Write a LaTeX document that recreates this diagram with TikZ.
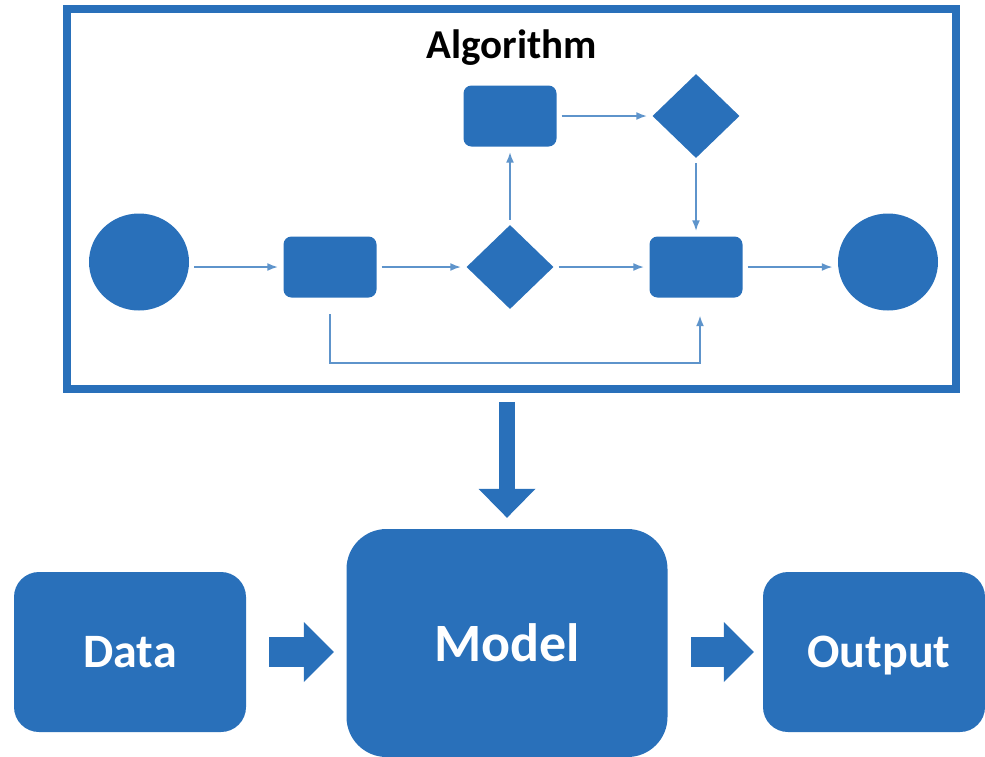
\documentclass[tikz,border=0pt]{standalone}
\usepackage{fontspec}
\setmainfont{Carlito}
\usepackage{xcolor}
\usetikzlibrary{positioning}
\usetikzlibrary{shapes.geometric}
\usetikzlibrary{arrows.meta}

\definecolor{algblue}{RGB}{41,112,186}
\tikzset{
	flowrect/.style={fill=algblue, rounded corners=8pt, minimum width=93pt, minimum height=61pt, inner sep=0pt},
	flowdiam/.style={diamond, fill=algblue, minimum width=87pt, minimum height=84pt, inner sep=0pt},
	flowterm/.style={ellipse, fill=algblue, minimum width=100pt, minimum height=97pt, inner sep=0pt},
	conn/.style={draw=algblue!75, line width=2pt, -{Latex[length=11pt,width=8pt]}, shorten >=5pt, shorten <=5pt},
	bigbox/.style={fill=algblue, text=white, text depth=0pt, inner sep=0pt},
	bigarrow/.style={draw=algblue, line width=30pt, -{Triangle[length=30pt,width=60pt,line width=0pt]}},
}

\begin{document}
\begin{tikzpicture}[x=1pt,y=-1pt]
	\useasboundingbox (0,0) rectangle (985,756);
	
	% algorithm frame
	\node[draw=algblue, line width=7.5pt, minimum width=889pt, minimum height=380pt, inner sep=0pt] (alg) at (511.5,199) {};
	\node[anchor=base, font=\fontsize{41pt}{49pt}\selectfont\bfseries] (title) at (512,58) {Algorithm};
	
	\node[flowterm] (start) at (139,262) {};
	\node[flowrect] (proc1) at (330,267) {};
	\node[flowdiam] (dec1) at (510,267) {};
	\node[flowrect] (proc2) at (510,116) {};
	\node[flowdiam] (dec2) at (696,116) {};
	\node[flowrect] (proc3) at (696,267) {};
	\node[flowterm] (stop) at (888,262) {};
	\coordinate (loop) at (700,363);
	
	\draw[conn] (start.east |- proc1) -- (proc1);
	\draw[conn] (proc1) -- (dec1);
	\draw[conn] (dec1) -- (proc3);
	\draw[conn] (dec1) -- (proc2);
	\draw[conn] (proc2) -- (dec2);
	\draw[conn] (dec2) -- (proc3);
	\draw[conn] (proc3) -- (stop.west |- proc3);
	\draw[conn, shorten <=16.5pt, shorten >=17.5pt] (proc1.south) |- (loop) -- (loop |- proc3.south);
	
	% data, model, output
	\node[bigbox, rounded corners=25pt, minimum width=232pt, minimum height=160pt, font=\fontsize{48pt}{58pt}\selectfont\bfseries] (data) at (130,652) {Data};
	\node[bigbox, rounded corners=40pt, minimum width=321pt, minimum height=228pt, font=\fontsize{54pt}{65pt}\selectfont\bfseries] (model) at (507,643) {Model};
	\node[bigbox, rounded corners=25pt, minimum width=222pt, minimum height=160pt, font=\fontsize{48pt}{58pt}\selectfont\bfseries] (output) at (874,652) {\hspace*{10pt}Output};
	
	\draw[bigarrow, line width=16pt, -{Triangle[length=29pt,width=57pt,line width=0pt]}, shorten <=9pt, shorten >=11pt] (alg.south -| model.north) -- (model.north);
	\draw[bigarrow, shorten <=23pt, shorten >=12.5pt] (data.east) -- (data.east -| model.west);
	\draw[bigarrow, shorten <=23.5pt, shorten >=9pt] (model.east |- output.west) -- (output.west);
\end{tikzpicture}
\end{document}
